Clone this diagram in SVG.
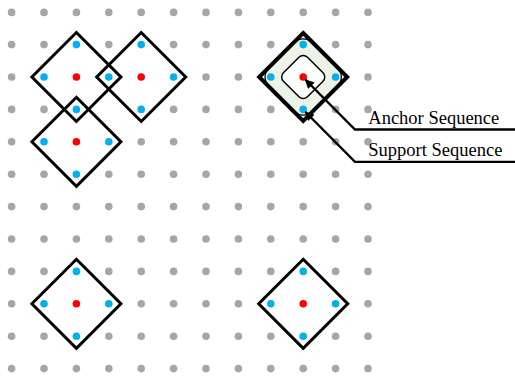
<svg xmlns="http://www.w3.org/2000/svg" width="515" height="376" viewBox="0 0 515 376">
<defs>
<style>
.g{fill:#a6a6a6}
.b{fill:#00b0f0}
.r{fill:#ff0000}
.dia{fill:none;stroke:#000;stroke-width:3;stroke-linejoin:miter}
.thick{fill:none;stroke:#000;stroke-width:4}
.lead{fill:none;stroke:#000;stroke-width:2.3}
.lbl{font-family:"Liberation Serif","Times New Roman",serif;font-size:18.5px;fill:#000}
</style>
<circle id="gd" r="3.8" class="g"/>
<marker id="ah" viewBox="0 0 10 10" refX="9" refY="5" markerWidth="4.6" markerHeight="4" orient="auto" markerUnits="strokeWidth">
<path d="M0,0 L10,5 L0,10 z" fill="#000"/>
</marker>
</defs>
<rect width="515" height="376" fill="#fff"/>
<g id="grid">
<g id="row0"><use href="#gd" x="11.6" y="12.4"/><use href="#gd" x="44" y="12.4"/><use href="#gd" x="76.4" y="12.4"/><use href="#gd" x="108.8" y="12.4"/><use href="#gd" x="141.2" y="12.4"/><use href="#gd" x="173.6" y="12.4"/><use href="#gd" x="206" y="12.4"/><use href="#gd" x="238.4" y="12.4"/><use href="#gd" x="270.8" y="12.4"/><use href="#gd" x="303.2" y="12.4"/><use href="#gd" x="335.6" y="12.4"/><use href="#gd" x="368" y="12.4"/></g>
<g id="row1"><use href="#gd" x="11.6" y="44.6"/><use href="#gd" x="44" y="44.6"/><use href="#gd" x="108.8" y="44.6"/><use href="#gd" x="173.6" y="44.6"/><use href="#gd" x="206" y="44.6"/><use href="#gd" x="238.4" y="44.6"/><use href="#gd" x="270.8" y="44.6"/><use href="#gd" x="335.6" y="44.6"/><use href="#gd" x="368" y="44.6"/></g>
<g id="row2"><use href="#gd" x="11.6" y="77"/><use href="#gd" x="206" y="77"/><use href="#gd" x="238.4" y="77"/><use href="#gd" x="368" y="77"/></g>
<g id="row3"><use href="#gd" x="11.6" y="109.4"/><use href="#gd" x="44" y="109.4"/><use href="#gd" x="173.6" y="109.4"/><use href="#gd" x="206" y="109.4"/><use href="#gd" x="238.4" y="109.4"/><use href="#gd" x="270.8" y="109.4"/><use href="#gd" x="335.6" y="109.4"/><use href="#gd" x="368" y="109.4"/></g>
<g id="row4"><use href="#gd" x="11.6" y="141.8"/><use href="#gd" x="141.2" y="141.8"/><use href="#gd" x="173.6" y="141.8"/><use href="#gd" x="206" y="141.8"/><use href="#gd" x="238.4" y="141.8"/><use href="#gd" x="270.8" y="141.8"/><use href="#gd" x="303.2" y="141.8"/><use href="#gd" x="335.6" y="141.8"/><use href="#gd" x="368" y="141.8"/></g>
<g id="row5"><use href="#gd" x="11.6" y="174.2"/><use href="#gd" x="44" y="174.2"/><use href="#gd" x="108.8" y="174.2"/><use href="#gd" x="141.2" y="174.2"/><use href="#gd" x="173.6" y="174.2"/><use href="#gd" x="206" y="174.2"/><use href="#gd" x="238.4" y="174.2"/><use href="#gd" x="270.8" y="174.2"/><use href="#gd" x="303.2" y="174.2"/><use href="#gd" x="335.6" y="174.2"/><use href="#gd" x="368" y="174.2"/></g>
<g id="row6"><use href="#gd" x="11.6" y="206.6"/><use href="#gd" x="44" y="206.6"/><use href="#gd" x="76.4" y="206.6"/><use href="#gd" x="108.8" y="206.6"/><use href="#gd" x="141.2" y="206.6"/><use href="#gd" x="173.6" y="206.6"/><use href="#gd" x="206" y="206.6"/><use href="#gd" x="238.4" y="206.6"/><use href="#gd" x="270.8" y="206.6"/><use href="#gd" x="303.2" y="206.6"/><use href="#gd" x="335.6" y="206.6"/><use href="#gd" x="368" y="206.6"/></g>
<g id="row7"><use href="#gd" x="11.6" y="239"/><use href="#gd" x="44" y="239"/><use href="#gd" x="76.4" y="239"/><use href="#gd" x="108.8" y="239"/><use href="#gd" x="141.2" y="239"/><use href="#gd" x="173.6" y="239"/><use href="#gd" x="206" y="239"/><use href="#gd" x="238.4" y="239"/><use href="#gd" x="270.8" y="239"/><use href="#gd" x="303.2" y="239"/><use href="#gd" x="335.6" y="239"/><use href="#gd" x="368" y="239"/></g>
<g id="row8"><use href="#gd" x="11.6" y="271.4"/><use href="#gd" x="44" y="271.4"/><use href="#gd" x="108.8" y="271.4"/><use href="#gd" x="141.2" y="271.4"/><use href="#gd" x="173.6" y="271.4"/><use href="#gd" x="206" y="271.4"/><use href="#gd" x="238.4" y="271.4"/><use href="#gd" x="270.8" y="271.4"/><use href="#gd" x="335.6" y="271.4"/><use href="#gd" x="368" y="271.4"/></g>
<g id="row9"><use href="#gd" x="11.6" y="303.8"/><use href="#gd" x="141.2" y="303.8"/><use href="#gd" x="173.6" y="303.8"/><use href="#gd" x="206" y="303.8"/><use href="#gd" x="238.4" y="303.8"/><use href="#gd" x="368" y="303.8"/></g>
<g id="row10"><use href="#gd" x="11.6" y="336.2"/><use href="#gd" x="44" y="336.2"/><use href="#gd" x="108.8" y="336.2"/><use href="#gd" x="141.2" y="336.2"/><use href="#gd" x="173.6" y="336.2"/><use href="#gd" x="206" y="336.2"/><use href="#gd" x="238.4" y="336.2"/><use href="#gd" x="270.8" y="336.2"/><use href="#gd" x="335.6" y="336.2"/><use href="#gd" x="368" y="336.2"/></g>
<g id="row11"><use href="#gd" x="11.6" y="368.6"/><use href="#gd" x="44" y="368.6"/><use href="#gd" x="76.4" y="368.6"/><use href="#gd" x="108.8" y="368.6"/><use href="#gd" x="141.2" y="368.6"/><use href="#gd" x="173.6" y="368.6"/><use href="#gd" x="206" y="368.6"/><use href="#gd" x="238.4" y="368.6"/><use href="#gd" x="270.8" y="368.6"/><use href="#gd" x="303.2" y="368.6"/><use href="#gd" x="335.6" y="368.6"/><use href="#gd" x="368" y="368.6"/></g>
</g>

<g id="node-a">
<polygon class="dia" points="76.4,32.5 120.9,77 76.4,121.5 31.9,77"/>
<circle class="r" cx="76.4" cy="77" r="3.8"/>
<circle class="b" cx="76.4" cy="44.6" r="3.8"/>
<circle class="b" cx="44" cy="77" r="3.8"/>
<circle class="b" cx="108.8" cy="77" r="3.8"/>
<circle class="b" cx="76.4" cy="109.4" r="3.8"/>
</g>
<g id="node-b">
<polygon class="dia" points="141.2,32.5 185.7,77 141.2,121.5 96.7,77"/>
<circle class="r" cx="141.2" cy="77" r="3.8"/>
<circle class="b" cx="141.2" cy="44.6" r="3.8"/>
<circle class="b" cx="173.6" cy="77" r="3.8"/>
<circle class="b" cx="141.2" cy="109.4" r="3.8"/>
</g>
<g id="node-c">
<polygon class="dia" points="76.4,97.3 120.9,141.8 76.4,186.3 31.9,141.8"/>
<circle class="r" cx="76.4" cy="141.8" r="3.8"/>
<circle class="b" cx="44" cy="141.8" r="3.8"/>
<circle class="b" cx="108.8" cy="141.8" r="3.8"/>
<circle class="b" cx="76.4" cy="174.2" r="3.8"/>
</g>
<g id="node-d">
<polygon class="dia" points="76.4,259.3 120.9,303.8 76.4,348.3 31.9,303.8"/>
<circle class="r" cx="76.4" cy="303.8" r="3.8"/>
<circle class="b" cx="76.4" cy="271.4" r="3.8"/>
<circle class="b" cx="44" cy="303.8" r="3.8"/>
<circle class="b" cx="108.8" cy="303.8" r="3.8"/>
<circle class="b" cx="76.4" cy="336.2" r="3.8"/>
</g>
<g id="node-e">
<polygon class="dia" points="303.2,259.3 347.7,303.8 303.2,348.3 258.7,303.8"/>
<circle class="r" cx="303.2" cy="303.8" r="3.8"/>
<circle class="b" cx="303.2" cy="271.4" r="3.8"/>
<circle class="b" cx="270.8" cy="303.8" r="3.8"/>
<circle class="b" cx="335.6" cy="303.8" r="3.8"/>
<circle class="b" cx="303.2" cy="336.2" r="3.8"/>
</g>
<g id="node-f">
<rect x="272.7" y="46.5" width="61" height="61" rx="12" fill="#edf3e6" stroke="#000" stroke-width="1.3" transform="rotate(45 303.2 77)"/>
<rect x="286.2" y="60" width="34" height="34" rx="6" fill="#fff" stroke="#000" stroke-width="1.5" transform="rotate(45 303.2 77)"/>
<polygon class="thick" points="303.2,33 347.2,77 303.2,121 259.2,77"/>
<circle class="r" cx="303.2" cy="77" r="3.8"/>
<circle class="b" cx="303.2" cy="44.6" r="3.8"/>
<circle class="b" cx="270.8" cy="77" r="3.8"/>
<circle class="b" cx="335.6" cy="77" r="3.8"/>
<circle class="b" cx="303.2" cy="109.4" r="3.8"/>
</g>

<g id="connectors">
<path class="lead" d="M515,129.5 H355 L305.5,79.8" marker-end="url(#ah)"/>
<path class="lead" d="M515,161.8 H355 L305.5,112" marker-end="url(#ah)"/>
</g>
<g id="labels">
<text class="lbl" x="368.3" y="123.5">Anchor Sequence</text>
<text class="lbl" x="368.3" y="155.5">Support Sequence</text>
</g>
</svg>
